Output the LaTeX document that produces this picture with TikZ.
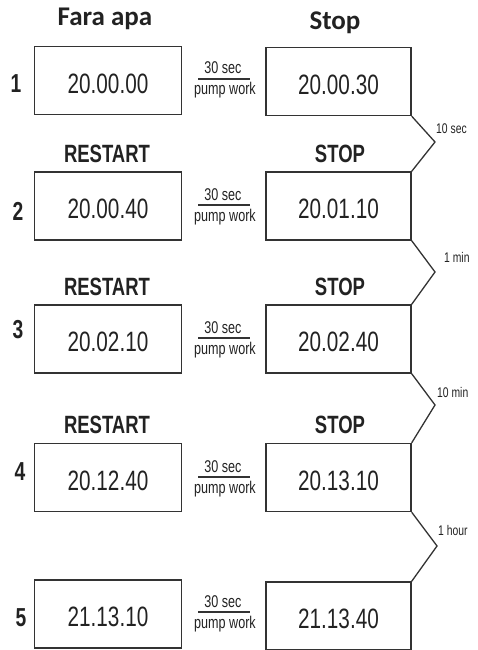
\documentclass[tikz,border=0pt]{standalone}
\usepackage{fontspec}
\setmainfont{Liberation Sans}
\newfontfamily\narrowfont[FakeStretch=0.74]{Liberation Sans}
\newfontfamily\headfont{Carlito}
\definecolor{ink}{HTML}{222222}
\definecolor{edge}{HTML}{333333}
\tikzset{
  timebox/.style={draw=edge, line width=1.4pt, minimum height=68pt, inner sep=0pt,
    text height=26pt, text=ink, font=\narrowfont\fontsize{28}{30}\selectfont},
  leftbox/.style={timebox, minimum width=147pt},
  rightbox/.style={timebox, minimum width=145pt},
  head/.style={anchor=base, text=ink, inner sep=0pt, font=\headfont\bfseries\fontsize{27}{30}\selectfont},
  state/.style={anchor=base, text=ink, inner sep=0pt, font=\narrowfont\bfseries\fontsize{25}{28}\selectfont},
  rownum/.style={anchor=base, text=ink, inner sep=0pt, font=\narrowfont\bfseries\fontsize{26}{28}\selectfont},
  fractxt/.style={anchor=base, text=ink, inner sep=0pt, font=\narrowfont\fontsize{17}{19}\selectfont},
  rule/.style={draw=edge, line width=1.2pt},
  zig/.style={draw=edge, line width=1.3pt, line join=miter},
  gaplabel/.style={anchor=base west, text=ink, inner sep=0pt, font=\narrowfont\fontsize{14}{16}\selectfont}
}
\begin{document}
\begin{tikzpicture}[x=1pt,y=-1pt]
\useasboundingbox (0,0) rectangle (477,650);
% headers
\node[head] (hl) at (105,26) {Fara apa};
\node[head] (hr) at (335,30) {Stop};
\node[state] (s2l) at (107,162) {RESTART};
\node[state] (s2r) at (340,162) {STOP};
\node[state] (s3l) at (107,295) {RESTART};
\node[state] (s3r) at (340,295) {STOP};
\node[state] (s4l) at (107,433) {RESTART};
\node[state] (s4r) at (340,433) {STOP};
% row numbers
\node[rownum] (n1) at (16,93) {1};
\node[rownum] (n2) at (18,220) {2};
\node[rownum] (n3) at (18,338) {3};
\node[rownum] (n4) at (20,480) {4};
\node[rownum] (n5) at (21,626) {5};
% boxes
\node[leftbox] (l1) at (108,80.5) {20.00.00};
\node[rightbox] (r1) at (338.5,81.5) {20.00.30};
\node[leftbox] (l2) at (108,206) {20.00.40};
\node[rightbox] (r2) at (338.5,206) {20.01.10};
\node[leftbox] (l3) at (108,339) {20.02.10};
\node[rightbox] (r3) at (338.5,339) {20.02.40};
\node[leftbox] (l4) at (108,477.5) {20.12.40};
\node[rightbox] (r4) at (338.5,477.5) {20.13.10};
\node[leftbox] (l5) at (108,614) {21.13.10};
\node[rightbox] (r5) at (338.5,616) {21.13.40};
% fractions
\foreach \i/\L in {1/79,2/205,3/338,4/477,5/612}{
  \node[fractxt] (f\i) at (223,\L-5) {30 sec};
  \node[fractxt] (w\i) at (225,\L+16) {pump work};
  \draw[rule] (198,\L) -- (250,\L);
}
% zigzags
\coordinate (p1) at (435,142);
\coordinate (p2) at (435,272);
\coordinate (p3) at (435,405);
\coordinate (p4) at (437,546);
\draw[zig] (r1.south east) -- (p1) -- (r2.north east);
\draw[zig] (r2.south east) -- (p2) -- (r3.north east);
\draw[zig] (r3.south east) -- (p3) -- (r4.north east);
\draw[zig] (r4.south east) -- (p4) -- (r5.north east);
\node[gaplabel] (g1) at (436,133) {10 sec};
\node[gaplabel] (g2) at (444,262) {1 min};
\node[gaplabel] (g3) at (437,397) {10 min};
\node[gaplabel] (g4) at (438,535) {1 hour};
\end{tikzpicture}
\end{document}
